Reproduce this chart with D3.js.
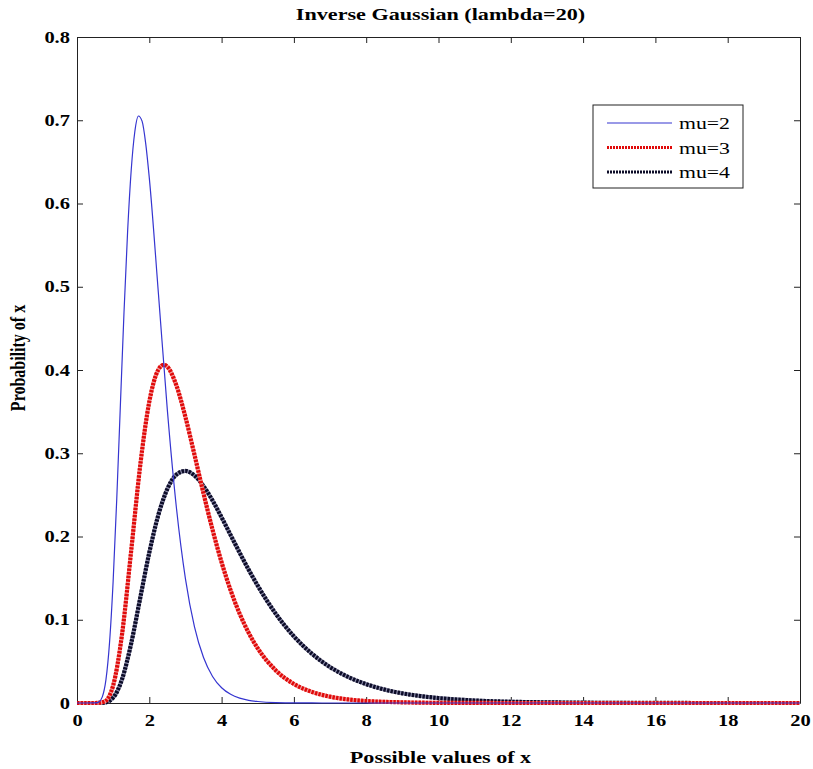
<!DOCTYPE html>
<html lang="en">
<head>
<meta charset="UTF-8">
<title>Inverse Gaussian</title>
<script src="https://d3js.org/d3.v7.min.js"></script>
<style>
  body { margin: 0; background: #fff; }
  text { font-family: "Liberation Serif", "Times New Roman", serif; }
  .axis path, .axis line { stroke: #222; }
  .axis text { font-size: 16px; font-weight: bold; fill: #000; }
</style>
</head>
<body>
<svg width="813" height="769"></svg>
<script>
// values (x, probability)
var mu2X = [0, 0.25, 0.5, 0.6, 0.7, 0.8, 0.9, 1.0, 1.1, 1.2, 1.3, 1.4, 1.5, 1.6, 1.7, 1.8, 1.9, 2.0, 2.25, 2.5, 2.75, 3.0, 3.25, 3.5, 3.75, 4.0, 4.25, 4.5, 4.75, 5.0, 5.5, 6.0, 6.5, 7.0, 8, 10, 12, 14, 16, 18, 20];
var mu2Y = [0, 0, 0.0001, 0.0011, 0.0073, 0.0277, 0.0725, 0.1465, 0.2454, 0.3578, 0.4691, 0.5663, 0.6402, 0.6865, 0.7051, 0.6989, 0.6723, 0.6308, 0.4931, 0.3515, 0.2346, 0.1492, 0.0915, 0.0546, 0.0319, 0.0183, 0.0104, 0.0058, 0.0032, 0.0018, 0.0005, 0.0002, 0.00004, 0.00001, 0, 0, 0, 0, 0, 0, 0];

var mu3X = [0, 0.25, 0.5, 0.75, 1.0, 1.25, 1.5, 1.75, 2.0, 2.25, 2.4, 2.5, 2.75, 3.0, 3.25, 3.5, 3.75, 4.0, 4.25, 4.5, 4.75, 5.0, 5.5, 6.0, 6.5, 7.0, 7.5, 8.0, 8.5, 9, 9.5, 10, 11, 12, 14, 16, 18, 20];
var mu3Y = [0, 0, 0, 0.0015, 0.0210, 0.0839, 0.1834, 0.2858, 0.3619, 0.4004, 0.4062, 0.4039, 0.3814, 0.3434, 0.2981, 0.2517, 0.2080, 0.1689, 0.1353, 0.1072, 0.0842, 0.0656, 0.0391, 0.0229, 0.0133, 0.0076, 0.0043, 0.0024, 0.0014, 0.0008, 0.0004, 0.0002, 0.0001, 0, 0, 0, 0, 0];

var mu4X = [0, 0.25, 0.5, 0.75, 1.0, 1.25, 1.5, 1.75, 2.0, 2.25, 2.5, 2.75, 3.0, 3.25, 3.5, 3.75, 4.0, 4.25, 4.5, 4.75, 5.0, 5.5, 6.0, 6.5, 7.0, 7.5, 8.0, 8.5, 9, 9.5, 10, 11, 12, 13, 14, 15, 16, 18, 20];
var mu4Y = [0, 0, 0, 0.0004, 0.0064, 0.0291, 0.0718, 0.1264, 0.1807, 0.2258, 0.2572, 0.2743, 0.2788, 0.2733, 0.2606, 0.2432, 0.2230, 0.2017, 0.1805, 0.1600, 0.1409, 0.1071, 0.0800, 0.0591, 0.0431, 0.0313, 0.0226, 0.0162, 0.0116, 0.0083, 0.0059, 0.0030, 0.0015, 0.0008, 0.0004, 0.0002, 0.0001, 0, 0];

var xTicks = [0, 2, 4, 6, 8, 10, 12, 14, 16, 18, 20];
var yTicks = [0, 0.1, 0.2, 0.3, 0.4, 0.5, 0.6, 0.7, 0.8];
var seriesNames = ["mu=2", "mu=3", "mu=4"];

var margin = {top: 37, right: 13, bottom: 66, left: 77};
var width = 813 - margin.left - margin.right;
var height = 769 - margin.top - margin.bottom;
var sx = 1.28; // glyphs in the picture are stretched sideways

const svg = d3.select('svg')
  .append('g')
  .attr('transform', `translate(${margin.left}, ${margin.top})`);

const x = d3.scaleLinear().domain([0, 20]).range([0, width]);
const y = d3.scaleLinear().domain([0, 0.8]).range([height, 0]);

const fmt = d => d === 0 ? "0" : d3.format(".1f")(d);

// axes, ticks pointing inward, box all round
svg.append('g').attr('class', 'axis')
  .attr('transform', `translate(0, ${height})`)
  .call(d3.axisBottom(x).tickValues(xTicks).tickSizeInner(-6).tickSizeOuter(0).tickPadding(11.5))
  .selectAll('text').attr('transform', `scale(${sx},1)`);

svg.append('g').attr('class', 'axis')
  .call(d3.axisLeft(y).tickValues(yTicks).tickFormat(fmt).tickSizeInner(-6).tickSizeOuter(0).tickPadding(5.5))
  .selectAll('text').attr('transform', `scale(${sx},1)`);

svg.append('g').attr('class', 'axis')
  .call(d3.axisTop(x).tickValues(xTicks).tickSizeInner(-6).tickSizeOuter(0).tickFormat(''));

svg.append('g').attr('class', 'axis')
  .attr('transform', `translate(${width}, 0)`)
  .call(d3.axisRight(y).tickValues(yTicks).tickSizeInner(-6).tickSizeOuter(0).tickFormat(''));

const line = d3.line().curve(d3.curveMonotoneX);
const toPts = (xs, ys) => xs.map((v, i) => [x(v), y(ys[i])]);

// mu=4, black star markers
svg.append('path')
  .attr('d', line(toPts(mu4X, mu4Y)))
  .attr('fill', 'none').attr('stroke', '#8a8aa8').attr('stroke-width', 4);
svg.append('path')
  .attr('d', line(toPts(mu4X, mu4Y)))
  .attr('fill', 'none').attr('stroke', '#0c0c28').attr('stroke-width', 4.2)
  .attr('stroke-dasharray', '2.4,1.2');

// mu=3, red star markers
svg.append('path')
  .attr('d', line(toPts(mu3X, mu3Y)))
  .attr('fill', 'none').attr('stroke', '#f29a9a').attr('stroke-width', 4);
svg.append('path')
  .attr('d', line(toPts(mu3X, mu3Y)))
  .attr('fill', 'none').attr('stroke', '#e00a0a').attr('stroke-width', 4.2)
  .attr('stroke-dasharray', '2.4,1.2');

// mu=2, thin blue line
svg.append('path')
  .attr('d', line(toPts(mu2X, mu2Y)))
  .attr('fill', 'none').attr('stroke', '#3535d0').attr('stroke-width', 1.2);

// title and axis labels
svg.append('text')
  .attr('transform', `translate(${width / 2 + 2}, -17) scale(${sx},1)`)
  .attr('text-anchor', 'middle')
  .style('font-size', '17.3px').style('font-weight', 'bold')
  .text('Inverse Gaussian (lambda=20)');

svg.append('text')
  .attr('transform', `translate(${width / 2 + 2}, ${height + 60}) scale(${sx},1)`)
  .attr('text-anchor', 'middle')
  .style('font-size', '17.3px').style('font-weight', 'bold')
  .text('Possible values of x');

svg.append('text')
  .attr('transform', `translate(-52, ${height / 2 - 12}) rotate(-90) scale(1,${sx})`)
  .attr('text-anchor', 'middle')
  .style('font-size', '16px').style('font-weight', 'bold')
  .text('Probability of x');

// legend
const leg = svg.append('g').attr('transform', `translate(${593 - margin.left}, ${105 - margin.top})`);
leg.append('rect')
  .attr('width', 150).attr('height', 83)
  .attr('fill', '#fff').attr('stroke', '#222').attr('stroke-width', 1);

const legStyle = [
  {color: '#3535d0', w: 1.2, dash: null},
  {color: '#e00a0a', w: 3.2, dash: '2,1'},
  {color: '#0c0c28', w: 3.2, dash: '2,1'}
];
seriesNames.forEach((name, i) => {
  const yy = 18 + i * 24.5;
  leg.append('line')
    .attr('x1', 14).attr('x2', 79).attr('y1', yy).attr('y2', yy)
    .attr('stroke', legStyle[i].color).attr('stroke-width', legStyle[i].w)
    .attr('stroke-dasharray', legStyle[i].dash);
  leg.append('text')
    .attr('transform', `translate(86, ${yy + 6}) scale(${sx},1)`)
    .style('font-size', '17px')
    .text(name);
});
</script>
</body>
</html>
